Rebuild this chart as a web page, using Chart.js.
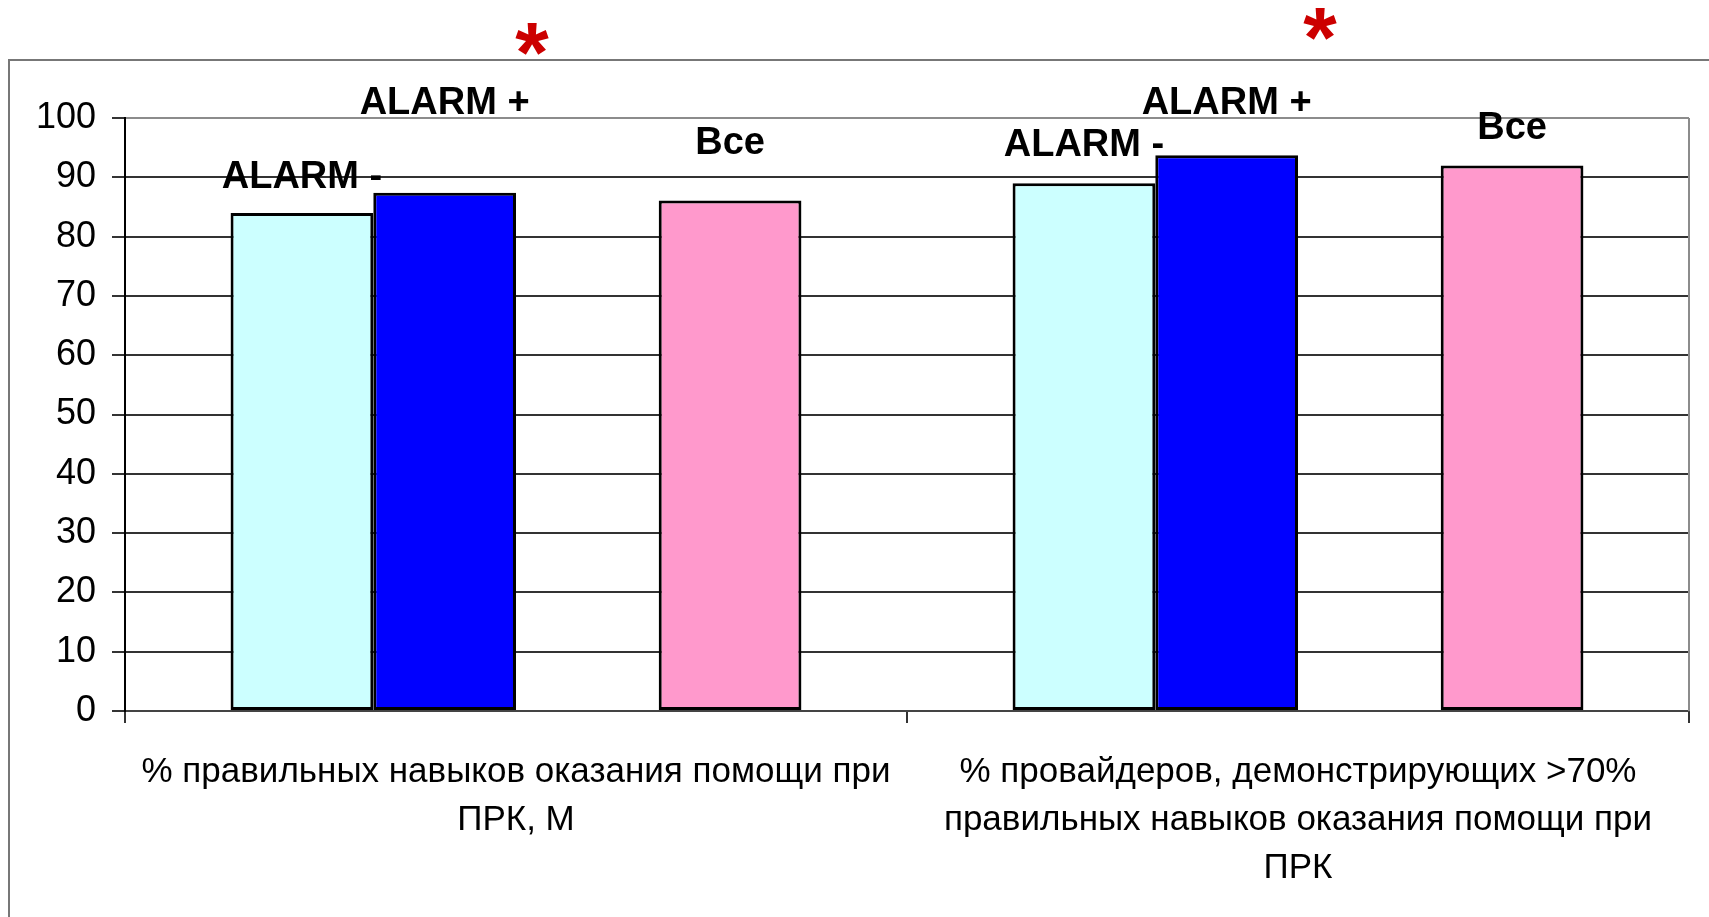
<!DOCTYPE html>
<html>
<head>
<meta charset="utf-8">
<script src="https://cdn.jsdelivr.net/npm/chart.js@4.4.0/dist/chart.umd.min.js"></script>
<style>
  html, body { margin: 0; padding: 0; background: #fff; }
</style>
</head>
<body>
<canvas id="myChart" width="1709" height="917"></canvas>
<script>
// chart data
const categories = [
    ['% правильных навыков оказания помощи при', 'ПРК, М'],
    ['% провайдеров, демонстрирующих >70%', 'правильных навыков оказания помощи при', 'ПРК']
];
const series_names = ['ALARM -', 'ALARM +', '', 'Все'];
const alarm_minus = [84, 89];
const alarm_plus = [87.4, 93.7];
const empty_slot = [null, null];   // the gap between ALARM + and Все
const all_values = [86.1, 92];
const y_ticks = [0, 10, 20, 30, 40, 50, 60, 70, 80, 90, 100];

// where the captions and stars sit, in axis units
const caption_levels = [[90.5, 95.9], [103, 103], [], [96.2, 98.8]];
const star_levels = [113.4, 115.8];
const star_shift = [16, 22]; // px right of the category centre

const bar_colors = ['#CCFFFF', '#0000FF', '#FFFFFF', '#FF99CC'];

var my_canva = document.getElementById('myChart');

// grey frame round the whole picture
const framePlugin = {
    id: 'frame',
    beforeDraw(chart) {
        const ctx = chart.ctx;
        ctx.save();
        ctx.fillStyle = '#fff';
        ctx.fillRect(0, 0, chart.width, chart.height);
        ctx.strokeStyle = '#777';
        ctx.lineWidth = 2;
        ctx.strokeRect(9, 60, 1800, 1000);
        ctx.restore();
    },
    beforeDatasetsDraw(chart) {
        // right border of the plot area
        const a = chart.chartArea;
        const ctx = chart.ctx;
        ctx.save();
        ctx.strokeStyle = '#8c8c8c';
        ctx.lineWidth = 2;
        ctx.beginPath();
        ctx.moveTo(a.right, a.top);
        ctx.lineTo(a.right, a.bottom);
        ctx.stroke();
        ctx.restore();
    }
};

function drawCentered(ctx, text, x, cy) {
    const m = ctx.measureText(text);
    const base = cy + (m.actualBoundingBoxAscent - m.actualBoundingBoxDescent) / 2;
    ctx.fillText(text, x, base);
}

// captions over bars and the red stars
const captionPlugin = {
    id: 'captions',
    afterDraw(chart) {
        const ctx = chart.ctx;
        const yScale = chart.scales.y;
        const xScale = chart.scales.x;
        ctx.save();
        ctx.textAlign = 'center';
        ctx.textBaseline = 'alphabetic';
        ctx.fillStyle = '#000';
        ctx.font = 'bold 38px "Liberation Sans", Arial, sans-serif';
        for (var d = 0; d < series_names.length; d++) {
            const meta = chart.getDatasetMeta(d);
            for (var i = 0; i < caption_levels[d].length; i++) {
                const bar = meta.data[i];
                drawCentered(ctx, series_names[d], bar.x, yScale.getPixelForValue(caption_levels[d][i]));
            }
        }
        ctx.fillStyle = '#CC0000';
        ctx.font = 'bold 86px "Liberation Sans", Arial, sans-serif';
        for (var k = 0; k < star_levels.length; k++) {
            drawCentered(ctx, '*', xScale.getPixelForValue(k) + star_shift[k], yScale.getPixelForValue(star_levels[k]));
        }
        ctx.restore();
    }
};

const data = {
    labels: categories,
    datasets: [alarm_minus, alarm_plus, empty_slot, all_values].map(function(vals, i) {
        return {
            label: series_names[i],
            data: vals,
            backgroundColor: bar_colors[i],
            borderColor: '#000',
            borderWidth: 3,
            borderSkipped: false
        };
    })
};

const config = {
    type: 'bar',
    data: data,
    options: {
        responsive: false,
        animation: false,
        layout: { padding: { left: 0, top: 118, right: 20, bottom: 0 } },
        datasets: {
            bar: { barPercentage: 1.0, categoryPercentage: 0.73 }
        },
        plugins: {
            legend: { display: false },
            tooltip: { enabled: false }
        },
        scales: {
            x: {
                grid: {
                    drawOnChartArea: false,
                    drawTicks: true,
                    tickLength: 12,
                    color: '#333',
                    lineWidth: 2
                },
                border: { color: '#444', width: 2 },
                ticks: {
                    color: '#000',
                    padding: 25,
                    maxRotation: 0,
                    autoSkip: false,
                    font: { family: '"Liberation Sans", Arial, sans-serif', size: 35, lineHeight: 1.38 }
                },
                afterFit(axis) { axis.height = 206; }
            },
            y: {
                min: 0,
                max: 100,
                afterBuildTicks(axis) {
                    axis.ticks = y_ticks.map(function(v) { return { value: v }; });
                },
                grid: {
                    color: function(c) { return c.tick && c.tick.value === 100 ? '#8c8c8c' : '#333'; },
                    lineWidth: 2,
                    tickLength: 13,
                    tickColor: '#333'
                },
                border: { color: '#000', width: 2 },
                ticks: {
                    color: '#000',
                    padding: 16,
                    font: { family: '"Liberation Sans", Arial, sans-serif', size: 36 }
                },
                afterFit(axis) { axis.width = 125; }
            }
        }
    },
    plugins: [framePlugin, captionPlugin]
};

const alarm_chart = new Chart(my_canva, config);
</script>
</body>
</html>
